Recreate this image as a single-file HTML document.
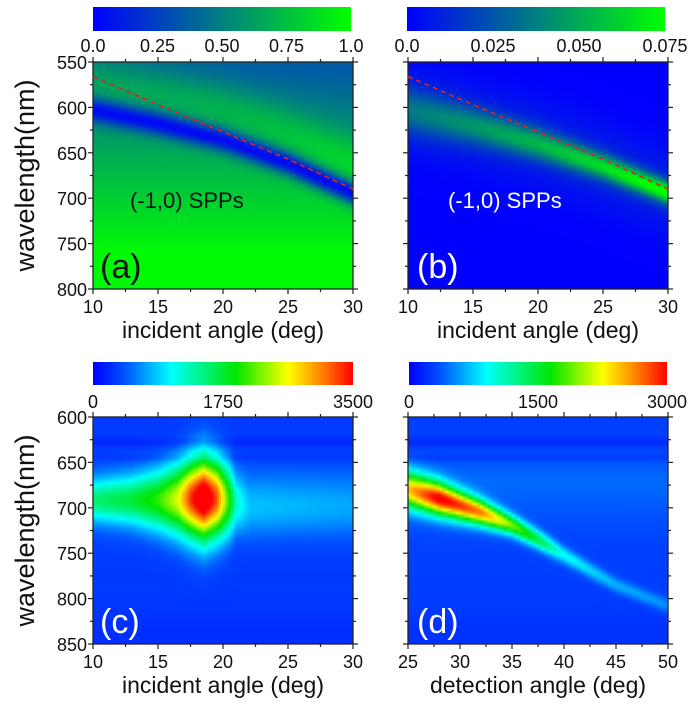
<!DOCTYPE html>
<html><head><meta charset="utf-8">
<style>
body{margin:0;background:#fff;width:700px;height:711px;overflow:hidden;font-family:"Liberation Sans",sans-serif;}
#root{position:relative;width:700px;height:711px;}
svg{position:absolute;left:0;top:0;}
</style></head>
<body>
<div id="root">
<svg id="ov" width="700" height="711" xmlns="http://www.w3.org/2000/svg"><defs id="defs"></defs></svg>
</div>
<script>
var aAngles=[10,15,20,25,30];
var aDipCenter=[603,618,636,662,695];
var aLine=[566,597,627,657,690];
var bAngles=[10,15,20,25,30];
var bCenter=[603,620,640,665,694];
var bAmp=[0.026,0.034,0.044,0.056,0.072];
var bWidth=[24,20,17,14,12];
var cAngles=[10,13,15,16.5,17.5,18.5,19.5,20.5,21,22,30];
var cCenter=[692,692,692,691,690,690,690,692,695,700,700];
var cAmp=[1100,1300,1600,2100,2900,3500,2800,1500,800,400,300];
var cWidth=[22,26,32,38,42,45,42,38,30,30,30];
var dAngles=[25,28,32,35,38,40,45,50];
var dCenter=[680,690,705,719,738,752,785,808];
var dAmp=[2000,2700,2300,1600,1050,650,380,300];
var dWidth=[20,18,14,11,10,9,8,8];
var aTicks=['0.0','0.25','0.50','0.75','1.0'];
var bTicks=['0.0','0.025','0.050','0.075'];
var cTicks=['0','1750','3500'];
var dTicks=['0','1500','3000'];

var ov=document.getElementById('ov');
var defs=document.getElementById('defs');
var NS='http://www.w3.org/2000/svg';
function el(t,at,txt,parent){var e=document.createElementNS(NS,t);for(var k in at){e.setAttribute(k,at[k]);}if(txt!==undefined){e.textContent=txt;}(parent||ov).appendChild(e);return e;}
function interp(xs,ys,x){if(x<=xs[0])return ys[0];for(var i=1;i<xs.length;i++){if(x<=xs[i]){var t=(x-xs[i-1])/(xs[i]-xs[i-1]);return ys[i-1]+t*(ys[i]-ys[i-1]);}}return ys[ys.length-1];}
var cmBG=[[0,[0,0,255]],[0.5,[0,128,128]],[1,[0,255,0]]];
var cmJet=[[0,[0,0,255]],[0.12,[0,80,255]],[0.3,[0,255,255]],[0.55,[0,230,0]],[0.75,[255,255,0]],[0.88,[255,130,0]],[1,[255,0,0]]];
function cmap(m,v){if(!(v>0))v=0;if(v>1)v=1;for(var i=1;i<m.length;i++){if(v<=m[i][0]){var t=(v-m[i-1][0])/(m[i][0]-m[i-1][0]);var a=m[i-1][1],b=m[i][1];return [a[0]+t*(b[0]-a[0]),a[1]+t*(b[1]-a[1]),a[2]+t*(b[2]-a[2])];}}return m[m.length-1][1];}
function rgb(c){return 'rgb('+Math.round(c[0])+','+Math.round(c[1])+','+Math.round(c[2])+')';}
var gid=0;
function paint(name,L,T,W,H,x0,x1,y0,y1,m,vmax,f){
 var grp=el('g',{});
 
 
 var cw=2,step=3;
 for(var i=0;i<W;i+=cw){var a=x0+(i+cw/2)/W*(x1-x0);var id='g'+(gid++);
  var lg=el('linearGradient',{id:id,x1:0,y1:0,x2:0,y2:1},undefined,defs);
  for(var j=0;j<=H;j+=step){var l=y0+j/H*(y1-y0);el('stop',{offset:(j/H).toFixed(4),'stop-color':rgb(cmap(m,f(a,l)/vmax))},undefined,lg);}
  el('rect',{x:L+i,y:T,width:cw+0.3,height:H,fill:'url(#'+id+')'},undefined,grp);}
}
function bar(name,L,T,W,H,m){var id='cb'+(gid++);var lg=el('linearGradient',{id:id,x1:0,y1:0,x2:1,y2:0},undefined,defs);
 for(var k=0;k<=20;k++){el('stop',{offset:k/20,'stop-color':rgb(cmap(m,k/20))},undefined,lg);}
 var r=el('rect',{x:L,y:T,width:W,height:H,fill:'url(#'+id+')'});
 
 }
function gs(x,c,w){var z=(x-c)/w;return Math.exp(-z*z);}
function stripes(l){return -120*gs(l,628,5)-80*gs(l,645,4)+80*gs(l,665,25)-60*gs(l,840,30);}
paint('heatmap-a',93,62,260,227,10,30,550,800,cmBG,1,function(a,l){var dc=interp(aAngles,aDipCenter,a);var base=0.40+0.58*Math.min(1,Math.max(0,(l-560)/200))-0.05*(a-10)/20*(l<dc?1:0);var band=0.2*gs(l,dc-35,30);return Math.min(1,base+band)*(1-0.95*gs(l,dc,13));});
paint('heatmap-b',408,62,260,227,10,30,550,800,cmBG,0.075,function(a,l){var c=interp(bAngles,bCenter,a);return interp(bAngles,bAmp,a)*gs(l,c,interp(bAngles,bWidth,a))+0.01*gs(l,c,45);});
paint('heatmap-c',93,417,260,227,10,30,600,850,cmJet,3500,function(a,l){var c=interp(cAngles,cCenter,a);return 300+stripes(l)+interp(cAngles,cAmp,a)*gs(l,c,interp(cAngles,cWidth,a))+120*gs(l,700,40);});
paint('heatmap-d',408,417,260,227,25,50,600,850,cmJet,3000,function(a,l){var c=interp(dAngles,dCenter,a);return 280+stripes(l)+interp(dAngles,dAmp,a)*gs(l,c,interp(dAngles,dWidth,a))+100*gs(l,690,40);});
bar('colorbar-a',93,7,258,24,cmBG);
bar('colorbar-b',407,7,258,24,cmBG);
bar('colorbar-c',93,362,260,23,cmJet);
bar('colorbar-d',409,362,258,23,cmJet);

function axes(name,L,T,W,H,x0,x1,xstep,y0,y1,ystep,xlab,yl){
 var r=el('rect',{x:L,y:T,width:W,height:H,fill:'none',stroke:'#222','stroke-width':1.3});
 
 
 var nx=Math.round((x1-x0)/xstep*2),k,v,t,len,maj;
 for(k=0;k<=nx;k++){v=x0+k*xstep/2;var x=L+(v-x0)/(x1-x0)*W;maj=(k%2===0);len=maj?5:3;
  el('line',{x1:x,x2:x,y1:T+H,y2:T+H+len,stroke:'#222','stroke-width':1.2});
  el('line',{x1:x,x2:x,y1:T,y2:T-len,stroke:'#222','stroke-width':1.2});
  if(maj){t=el('text',{x:x,y:T+H+24,'text-anchor':'middle','font-size':18,fill:'#111'},String(Math.round(v)));
   
   }}
 var ny=Math.round((y1-y0)/ystep*2);
 for(k=0;k<=ny;k++){v=y0+k*ystep/2;var y=T+(v-y0)/(y1-y0)*H;maj=(k%2===0);len=maj?5:3;
  el('line',{x1:L,x2:L-len,y1:y,y2:y,stroke:'#222','stroke-width':1.2});
  el('line',{x1:L+W,x2:L+W+len,y1:y,y2:y,stroke:'#222','stroke-width':1.2});
  if(maj&&yl){t=el('text',{x:L-6,y:y+7,'text-anchor':'end','font-size':18,fill:'#111'},String(Math.round(v)));
   
   }}
 var xt=el('text',{x:L+W/2,y:T+H+49,'text-anchor':'middle','font-size':23,fill:'#111'},xlab);
 
 
 if(yl){var yt=el('text',{x:0,y:0,transform:'translate(34,'+(T+H/2)+') rotate(-90)','text-anchor':'middle','font-size':27,fill:'#111'},'wavelength(nm)');
  
  }
}
axes('panel-a',93,62,260,227,10,30,5,550,800,50,'incident angle (deg)',true);
axes('panel-b',408,62,260,227,10,30,5,550,800,50,'incident angle (deg)',false);
axes('panel-c',93,417,260,227,10,30,5,600,850,50,'incident angle (deg)',true);
axes('panel-d',408,417,260,227,25,50,5,600,850,50,'detection angle (deg)',false);
function cbl(name,L,W,y,ticks,vmax){for(var i=0;i<ticks.length;i++){var t=el('text',{x:L+Number(ticks[i])/vmax*W,y:y,'text-anchor':'middle','font-size':18,fill:'#111'},ticks[i]);
 
 }}
cbl('colorbar-a',93,258,52,aTicks,1);
cbl('colorbar-b',407,258,52,bTicks,0.075);
cbl('colorbar-c',93,260,408,cTicks,3500);
cbl('colorbar-d',409,258,408,dTicks,3000);
function dash(L,T,W,H){var d='';for(var i=0;i<aAngles.length;i++){var x=L+(aAngles[i]-10)/20*W,y=T+(aLine[i]-550)/250*H;d+=(i?'L':'M')+x+','+y;}
 var p=el('path',{d:d,fill:'none',stroke:'#e52020','stroke-width':1.6,'stroke-dasharray':'5,4'});
 
 }
dash(93,62,260,227);
dash(408,62,260,227);
var labs=[[130,208,'(-1,0) SPPs','#111',22,'spp-label-a'],[448,208,'(-1,0) SPPs','#fff',22,'spp-label-b'],[100,278,'(a)','#111',34,'panel-label-a'],[417,278,'(b)','#fff',34,'panel-label-b'],[100,633,'(c)','#fff',34,'panel-label-c'],[417,633,'(d)','#fff',34,'panel-label-d']];
for(var q=0;q<labs.length;q++){var lt=el('text',{x:labs[q][0],y:labs[q][1],'font-size':labs[q][4],fill:labs[q][3]},labs[q][2]);
 
 }
</script>
</body></html>
